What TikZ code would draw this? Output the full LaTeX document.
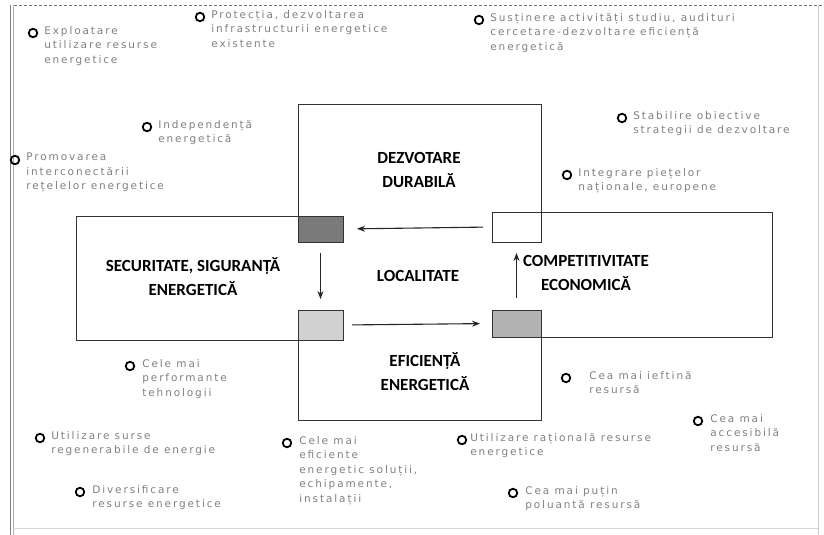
\documentclass[tikz,border=0pt]{standalone}
\usepackage{fontspec}
\setmainfont{Carlito}
\newfontfamily\notefont[LetterSpace=18]{DejaVu Sans}
\usetikzlibrary{arrows.meta}
\tikzset{
  note/.style={font=\notefont\fontsize{10.5}{14.5}\selectfont, text=black!50, align=left, anchor=north west, inner sep=0pt},
  dot/.style={circle, draw=black, line width=1.8pt, minimum size=8.5pt, inner sep=0pt},
  title/.style={font=\bfseries\fontsize{17}{24}\selectfont, align=center, inner sep=0pt},
  box/.style={draw=black!80, line width=0.9pt, fill=white},
  corner/.style={draw=black!80, line width=0.9pt, inner sep=0pt, outer sep=0pt},
  flow/.style={-{Stealth[length=8pt,width=6pt]}, line width=1.1pt, black!85},
}
\begin{document}
\begin{tikzpicture}[x=1pt, y=-1pt]
\useasboundingbox (0,0) rectangle (824,535);
% Frame of the scan
\draw[black!55, densely dashed, line width=0.8pt] (14,5) -- (822,5);
\draw[black!50, line width=0.8pt] (10,5) -- (10,535);
\draw[black!30, line width=0.6pt] (13,5) -- (13,535);
\draw[black!20, line width=0.6pt] (818,5) -- (818,535);
\draw[black!15, line width=0.6pt] (13,528) -- (818,528);
% Side boxes
\draw[box] (76,216) rectangle (343,340);
\draw[box] (492,212) rectangle (772,337);
% Top and bottom boxes
\draw[box] (298,104) rectangle (541,242);
\draw[box] (298,310) rectangle (541,420);
% Middle field
\fill[white] (298.7,241) rectangle (540.3,311);
% Corner squares
\node[corner, fill=black!52, minimum width=45pt, minimum height=26pt] (dark) at (320.5,229) {};
\node[corner, fill=white, minimum width=49pt, minimum height=30pt] (white) at (516.5,227) {};
\node[corner, fill=black!18, minimum width=45pt, minimum height=30pt] (light) at (320.5,325) {};
\node[corner, fill=black!30, minimum width=49pt, minimum height=27pt] (mid) at (516.5,323.5) {};
% Cycle
\draw[flow, shorten <=9pt, shorten >=14pt] (white.west) -- (dark.east);
\draw[flow, shorten <=11pt, shorten >=11pt] (dark.south) -- (light.north);
\draw[flow, shorten <=9pt, shorten >=12pt] (light.east) -- (mid.west);
\draw[flow, shorten <=12pt, shorten >=11pt] (mid.north) -- (white.south);
% Titles
\node[title] (dur) at (419,170) {DEZVOTARE\\DURABILĂ};
\node[title] (sec) at (193,277) {SECURITATE, SIGURANȚĂ\\ENERGETICĂ};
\node[title] (loc) at (418,276) {LOCALITATE};
\node[title] (com) at (586,273) {COMPETITIVITATE\\ECONOMICĂ};
\node[title] (efi) at (425,372) {EFICIENȚĂ\\ENERGETICĂ};
% Notes round the boxes
\node[dot] (d1) at (33,33) {};
\node[note] (n1) at ([xshift=6pt, yshift=7pt]d1.east) {Exploatare\\utilizare resurse\\energetice};
\node[dot] (d2) at (200,17) {};
\node[note] (n2) at ([xshift=6pt, yshift=7pt]d2.east) {Protecția, dezvoltarea\\infrastructurii energetice\\existente};
\node[dot] (d3) at (479,20) {};
\node[note] (n3) at ([xshift=6pt, yshift=7pt]d3.east) {Susținere activități studiu, audituri\\cercetare-dezvoltare eficiență\\energetică};
\node[dot] (d4) at (147,127) {};
\node[note] (n4) at ([xshift=6pt, yshift=7pt]d4.east) {Independență\\energetică};
\node[dot] (d5) at (622,118) {};
\node[note] (n5) at ([xshift=6pt, yshift=7pt]d5.east) {Stabilire obiective\\strategii de dezvoltare};
\node[dot] (d6) at (15,160) {};
\node[note] (n6) at ([xshift=6pt, yshift=7pt]d6.east) {Promovarea\\interconectării\\rețelelor energetice};
\node[dot] (d7) at (567,175) {};
\node[note] (n7) at ([xshift=6pt, yshift=7pt]d7.east) {Integrare piețelor\\naționale, europene};
\node[dot] (d8) at (130,366) {};
\node[note] (n8) at ([xshift=7pt, yshift=7pt]d8.east) {Cele mai\\performante\\tehnologii};
\node[dot] (d9) at (566,378) {};
\node[note] (n9) at ([xshift=18pt, yshift=7pt]d9.east) {Cea mai ieftină\\resursă};
\node[dot] (d10) at (698,421) {};
\node[note] (n10) at ([xshift=7pt, yshift=7pt]d10.east) {Cea mai\\accesibilă\\resursă};
\node[dot] (d11) at (40,438) {};
\node[note] (n11) at ([xshift=6pt, yshift=7pt]d11.east) {Utilizare surse\\regenerabile de energie};
\node[dot] (d12) at (80,492) {};
\node[note] (n12) at ([xshift=7pt, yshift=7pt]d12.east) {Diversificare\\resurse energetice};
\node[dot] (d13) at (287,443) {};
\node[note] (n13) at ([xshift=7pt, yshift=7pt]d13.east) {Cele mai\\eficiente\\energetic soluții,\\echipamente,\\instalații};
\node[dot] (d14) at (462,440) {};
\node[note] (n14) at ([xshift=3pt, yshift=7pt]d14.east) {Utilizare rațională resurse\\energetice};
\node[dot] (d15) at (513,493) {};
\node[note] (n15) at ([xshift=7pt, yshift=7pt]d15.east) {Cea mai puțin\\poluantă resursă};
\end{tikzpicture}
\end{document}
